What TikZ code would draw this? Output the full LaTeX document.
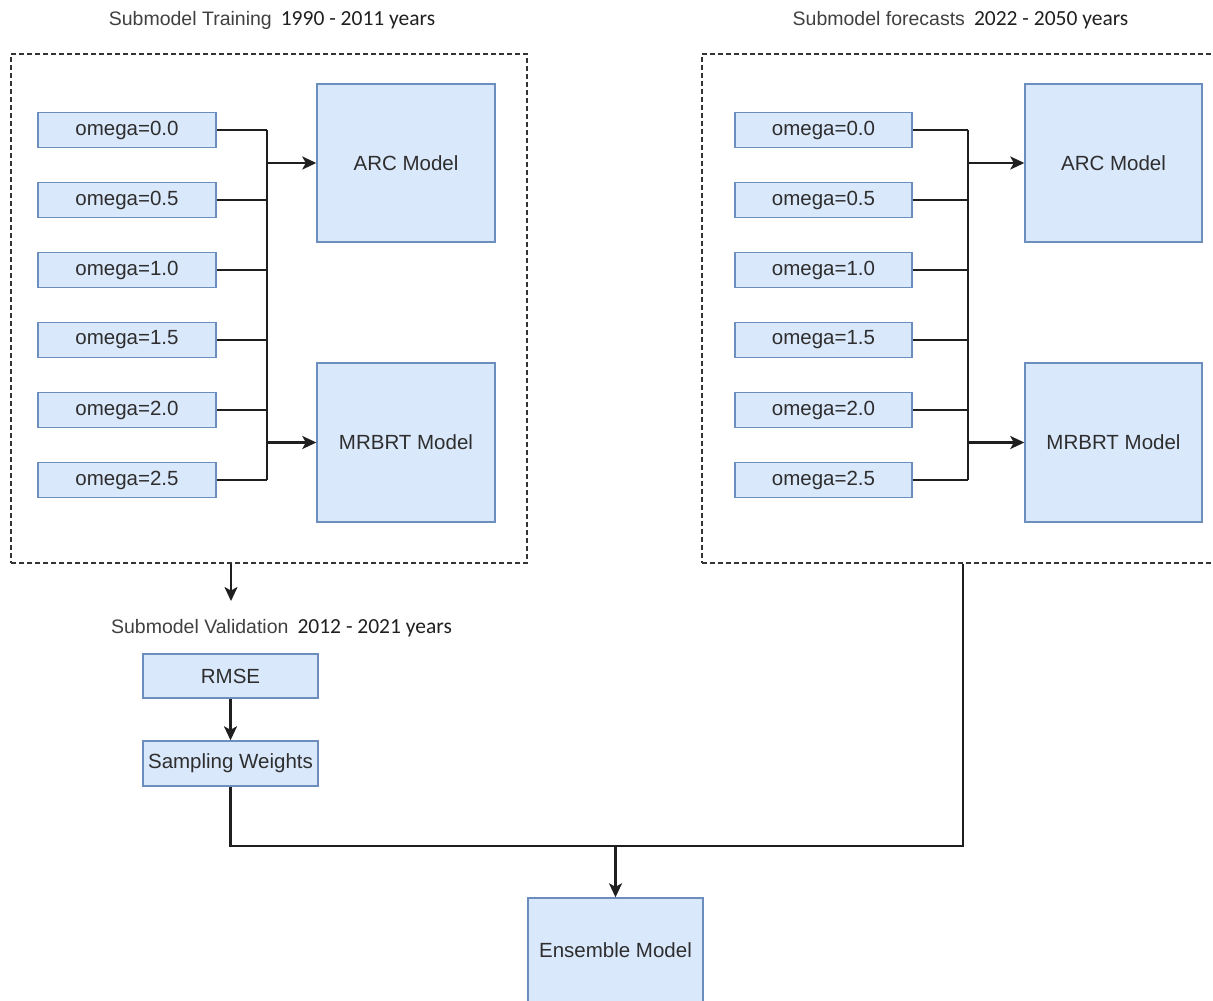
\documentclass[tikz,border=0pt]{standalone}
\usepackage{fontspec}
\setmainfont{Liberation Sans}
\newfontfamily\digitfont{Carlito}
\usetikzlibrary{arrows.meta}
\definecolor{boxfill}{HTML}{DAE8FC}
\definecolor{boxdraw}{HTML}{6C8EBF}
\definecolor{txt}{HTML}{2E2E2E}
\definecolor{ttl}{HTML}{404040}
\tikzset{
  box/.style={draw=boxdraw, fill=boxfill, line width=1.4pt, text=txt, font=\fontsize{20.5}{24}\selectfont, inner sep=0pt},
  omegabox/.style={box, minimum width=178pt, minimum height=35pt},
  modelbox/.style={box, minimum width=178pt, minimum height=158pt},
  smallbox/.style={box, minimum width=175pt, minimum height=44pt},
  conn/.style={line width=2.2pt, draw=black!88},
  arr/.style={conn, -{Stealth[length=14pt, width=13pt, inset=3.5pt]}},
  group/.style={draw=black!80, line width=1.6pt, dash pattern=on 5pt off 3pt, inner sep=0pt},
  titletext/.style={text=ttl, inner sep=0pt, font=\fontsize{19.5}{24}\selectfont},
}
\newcommand{\yrs}[1]{{\color{black!88}\digitfont\fontsize{21.5}{24}\selectfont #1}}
\begin{document}
\begin{tikzpicture}[x=1pt, y=-1pt]
\useasboundingbox (0,0) rectangle (1213,1001);

% group frames
\node[group, minimum width=516pt, minimum height=509pt] (g1) at (269,308.5) {};
\node[group, minimum width=516pt, minimum height=509pt] (g2) at (960,308.5) {};

% titles
\node[titletext] (t1) at (272,20) {Submodel Training\hspace{9pt}\yrs{1990 - 2011 years}};
\node[titletext] (t2) at (960.5,20) {Submodel forecasts\hspace{9pt}\yrs{2022 - 2050 years}};
\node[titletext] (t3) at (281.5,628) {Submodel Validation\hspace{9pt}\yrs{2012 - 2021 years}};

% left group
\node[omegabox] (a1) at (127,130) {omega=0.0};
\node[omegabox] (a2) at (127,200) {omega=0.5};
\node[omegabox] (a3) at (127,270) {omega=1.0};
\node[omegabox] (a4) at (127,340) {omega=1.5};
\node[omegabox] (a5) at (127,410) {omega=2.0};
\node[omegabox] (a6) at (127,480) {omega=2.5};
\node[modelbox] (arcL) at (406,163) {ARC Model};
\node[modelbox, minimum height=159pt] (mrL) at (406,442.5) {MRBRT Model};
\coordinate (busL) at (267,0);

\foreach \i in {1,...,6} {\draw[conn] (a\i.east) -- (a\i.east -| busL);}
\draw[conn] (a1.east -| busL) -- (a6.east -| busL);
\draw[arr] (arcL.west -| busL) -- (arcL.west);
\draw[arr] (mrL.west -| busL) -- (mrL.west);

% right group
\node[omegabox, minimum width=177pt] (b1) at (823.5,130) {omega=0.0};
\node[omegabox, minimum width=177pt] (b2) at (823.5,200) {omega=0.5};
\node[omegabox, minimum width=177pt] (b3) at (823.5,270) {omega=1.0};
\node[omegabox, minimum width=177pt] (b4) at (823.5,340) {omega=1.5};
\node[omegabox, minimum width=177pt] (b5) at (823.5,410) {omega=2.0};
\node[omegabox, minimum width=177pt] (b6) at (823.5,480) {omega=2.5};
\node[modelbox, minimum width=177pt] (arcR) at (1113.5,163) {ARC Model};
\node[modelbox, minimum width=177pt, minimum height=159pt] (mrR) at (1113.5,442.5) {MRBRT Model};
\coordinate (busR) at (968,0);

\foreach \i in {1,...,6} {\draw[conn] (b\i.east) -- (b\i.east -| busR);}
\draw[conn] (b1.east -| busR) -- (b6.east -| busR);
\draw[arr] (arcR.west -| busR) -- (arcR.west);
\draw[arr] (mrR.west -| busR) -- (mrR.west);

% validation
\node[smallbox] (rmse) at (230.5,676) {RMSE};
\node[smallbox, minimum height=45pt] (sw) at (230.5,763.5) {Sampling Weights};
\coordinate (valend) at (231,601);
\draw[arr] (g1.south -| valend) -- (valend);
\draw[arr] (rmse.south) -- (sw.north);

% ensemble
\node[box, minimum width=175pt, minimum height=104pt] (ens) at (615.5,950) {Ensemble Model};
\coordinate (join) at (615.5,846);
\coordinate (rdrop) at (963,563);
\draw[conn] (sw.south) |- (join);
\draw[conn] (g2.south -| rdrop) |- (join);
\draw[arr] (join) -- (ens.north);
\end{tikzpicture}
\end{document}
